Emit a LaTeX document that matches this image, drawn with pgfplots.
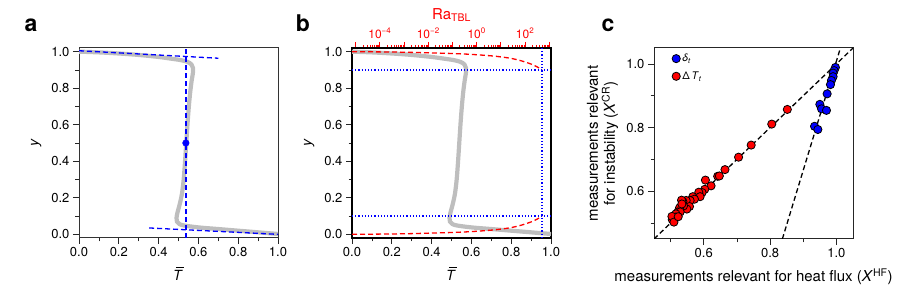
\documentclass[border=0pt]{standalone}
\usepackage{fontspec}
\setmainfont{TeX Gyre Heros}
\usepackage{pgfplots}
\pgfplotsset{compat=1.18}
\definecolor{curvegray}{RGB}{190,190,190}
\pgfplotstableread{
x y
0 1.0
0.1 0.996
0.2 0.99
0.3 0.982
0.4 0.971
0.46 0.962
0.51 0.954
0.545 0.944
0.565 0.93
0.573 0.91
0.572 0.88
0.566 0.84
0.559 0.78
0.552 0.70
0.545 0.60
0.539 0.50
0.533 0.40
0.526 0.30
0.517 0.22
0.505 0.16
0.495 0.12
0.49 0.09
0.492 0.07
0.505 0.056
0.53 0.048
0.6 0.038
0.7 0.029
0.8 0.02
0.9 0.011
1.0 0.002
}\profile
\pgfplotstableread{
x y
0 0.0
0.1 0.001
0.2 0.002
0.3 0.004
0.4 0.007
0.5 0.010
0.6 0.015
0.7 0.023
0.75 0.029
0.8 0.037
0.85 0.05
0.9 0.068
0.93 0.083
0.955 0.1
}\ralow
\pgfplotstableread{
x y
0 1.0
0.1 0.999
0.2 0.998
0.3 0.996
0.4 0.993
0.5 0.990
0.6 0.985
0.7 0.977
0.75 0.971
0.8 0.963
0.85 0.95
0.9 0.932
0.93 0.917
0.955 0.9
}\rahigh
\pgfplotstableread{
x y
0.852 0.857
0.805 0.811
0.743 0.745
0.705 0.707
0.664 0.668
0.642 0.647
0.647 0.648
0.622 0.617
0.605 0.635
0.603 0.606
0.595 0.596
0.585 0.597
0.589 0.583
0.567 0.583
0.572 0.575
0.559 0.571
0.547 0.571
0.537 0.568
0.533 0.572
0.557 0.552
0.549 0.544
0.539 0.554
0.527 0.548
0.522 0.535
0.529 0.535
0.534 0.560
0.516 0.529
0.508 0.518
0.516 0.519
0.505 0.511
0.504 0.521
0.510 0.503
0.523 0.520
}\dT
\pgfplotstableread{
x y
0.997 0.989
0.993 0.979
0.990 0.971
0.990 0.960
0.985 0.948
0.982 0.935
0.972 0.906
0.950 0.873
0.955 0.859
0.970 0.854
0.934 0.804
0.944 0.794
}\delt
\newcommand{\Tbar}{\textit{T}\kern-7.0pt\raisebox{12.6pt}{\rule{7.8pt}{0.9pt}}}
\begin{document}
\begin{tikzpicture}
\useasboundingbox (0,0) rectangle (915pt,291pt);
\pgfplotsset{
  /pgf/number format/assume math mode=true,
  every tick label/.append style={font=\fontsize{13}{15}\selectfont},
  panel/.style={scale only axis, width=199pt, height=190pt, anchor=south west,
    tick align=outside, xtick pos=bottom, ytick pos=left,
    major tick length=6pt, minor tick length=3.5pt,
    tick style={black!85, line width=0.8pt},
    xticklabel={\pgfmathprintnumber[fixed,fixed zerofill,precision=1]{\tick}},
    yticklabel={\pgfmathprintnumber[fixed,fixed zerofill,precision=1]{\tick}},
  },
  unitpanel/.style={panel, xmin=0, xmax=1, ymin=-0.02, ymax=1.02,
    xtick={0,0.2,0.4,0.6,0.8,1}, ytick={0,0.2,0.4,0.6,0.8,1},
    minor xtick={0.1,0.3,0.5,0.7,0.9}, minor ytick={0.1,0.3,0.5,0.7,0.9},
    xlabel={\Tbar}, ylabel={\textit{y}},
    xlabel style={font=\fontsize{14}{16}\selectfont, at={(axis description cs:0.5,-0.19)}, anchor=center},
    ylabel style={font=\fontsize{14}{16}\selectfont, at={(axis description cs:-0.215,0.5)}, anchor=center},
  },
}
% ---------- panel a ----------
\begin{axis}[unitpanel, at={(79pt,53pt)}, axis line style={black!80, line width=1pt}]
\addplot[curvegray, line width=4.2pt, smooth, tension=0.5] table[x=x,y=y] {\profile};
\addplot[blue, line width=1.3pt, dash pattern=on 5pt off 3pt] coordinates {(0.537,-0.02) (0.537,1.02)};
\addplot[blue, line width=1.3pt, dash pattern=on 5pt off 3pt] coordinates {(0,1.005) (0.70,0.964)};
\addplot[blue, line width=1.3pt, dash pattern=on 5pt off 3pt] coordinates {(0.352,0.035) (1.0,0.0)};
\addplot[only marks, mark=*, mark size=3.3pt, blue] coordinates {(0.537,0.5)};
\end{axis}
% ---------- panel b top axis ----------
\begin{axis}[scale only axis, width=199pt, height=190pt, anchor=south west, at={(352pt,53pt)},
  xmode=log, xmin=7.08e-6, xmax=1175, ymin=0, ymax=1,
  axis x line*=top, hide y axis,
  axis line style={black, line width=2pt},
  tick align=outside, major tick length=6pt, minor tick length=3pt,
  tick style={red, line width=0.8pt},
  xtick={1e-5,1e-4,1e-3,1e-2,1e-1,1,10,100,1000},
  xticklabels={,10\textsuperscript{−4},,10\textsuperscript{−2},,10\textsuperscript{0},,10\textsuperscript{2},},
  minor xtick={2e-5,3e-5,4e-5,5e-5,6e-5,7e-5,8e-5,9e-5,
    2e-4,3e-4,4e-4,5e-4,6e-4,7e-4,8e-4,9e-4,
    2e-3,3e-3,4e-3,5e-3,6e-3,7e-3,8e-3,9e-3,
    2e-2,3e-2,4e-2,5e-2,6e-2,7e-2,8e-2,9e-2,
    0.2,0.3,0.4,0.5,0.6,0.7,0.8,0.9,
    2,3,4,5,6,7,8,9,
    20,30,40,50,60,70,80,90,
    200,300,400,500,600,700,800,900},
  xticklabel style={text=red, font=\fontsize{12}{14}\selectfont},
  xlabel={Ra\textsubscript{TBL}},
  xlabel style={text=red, font=\fontsize{15}{17}\selectfont, at={(axis description cs:0.5,1.174)}, anchor=center},
]
\addplot[draw=none] coordinates {(1,0.5)};
\end{axis}
% ---------- panel b ----------
\begin{axis}[unitpanel, at={(352pt,53pt)}, axis line style={black, line width=2pt}]
\addplot[curvegray, line width=4.2pt, smooth, tension=0.5] table[x=x,y=y] {\profile};
\addplot[red, line width=1.3pt, dash pattern=on 5pt off 3pt, smooth] table[x=x,y=y] {\ralow};
\addplot[red, line width=1.3pt, dash pattern=on 5pt off 3pt, smooth] table[x=x,y=y] {\rahigh};
\addplot[blue, line width=1.2pt, dash pattern=on 1.2pt off 2pt] coordinates {(0,0.9) (1,0.9)};
\addplot[blue, line width=1.2pt, dash pattern=on 1.2pt off 2pt] coordinates {(0,0.1) (1,0.1)};
\addplot[blue, line width=1.2pt, dash pattern=on 1.2pt off 2pt] coordinates {(0.955,-0.02) (0.955,1.02)};
\end{axis}
% ---------- panel c ----------
\begin{axis}[panel, at={(654pt,52pt)}, height=191pt,
  axis line style={black!85, line width=1pt},
  xmin=0.45, xmax=1.05, ymin=0.45, ymax=1.05,
  xtick={0.6,0.8,1.0}, ytick={0.6,0.8,1.0},
  minor xtick={0.5,0.7,0.9}, minor ytick={0.5,0.7,0.9},
  xlabel={measurements relevant for heat flux (\textit{X}\textsuperscript{HF})},
  ylabel={measurements relevant\\for instability (\textit{X}\textsuperscript{CR})},
  xlabel style={font=\fontsize{15}{17}\selectfont, at={(axis description cs:0.5,-0.199)}, anchor=center},
  ylabel style={font=\fontsize{15}{17}\selectfont, at={(axis description cs:-0.259,0.5)}, anchor=center, align=center},
  legend style={at={(axis description cs:0.085,0.985)}, anchor=north west, draw=none, fill=none,
    font=\fontsize{10.5}{12}\selectfont, row sep=4.5pt, inner sep=1pt},
  legend cell align=left,
]
\addplot[black, line width=1.3pt, dash pattern=on 5pt off 3pt, forget plot] coordinates {(0.45,0.45) (1.05,1.05)};
\addplot[black, line width=1.3pt, dash pattern=on 5pt off 3pt, forget plot] coordinates {(0.837,0.45) (1.012,1.05)};
\addplot[only marks, mark=*, mark size=4.1pt, mark options={fill=blue, draw=black, line width=0.8pt}] table[x=x,y=y] {\delt};
\addlegendentry{\textit{δ}\textsubscript{\textit{t}}}
\addplot[only marks, mark=*, mark size=4.1pt, mark options={fill=red, draw=black, line width=0.8pt}] table[x=x,y=y] {\dT};
\addlegendentry{Δ\,\textit{T}\textsubscript{\textit{t}}}
\end{axis}
% ---------- panel letters ----------
\node[font=\fontsize{23}{23}\selectfont\bfseries, anchor=base] at (31pt,259pt) {a};
\node[font=\fontsize{23}{23}\selectfont\bfseries, anchor=base] at (303pt,259pt) {b};
\node[font=\fontsize{23}{23}\selectfont\bfseries, anchor=base] at (608pt,259pt) {c};
\end{tikzpicture}
\end{document}
